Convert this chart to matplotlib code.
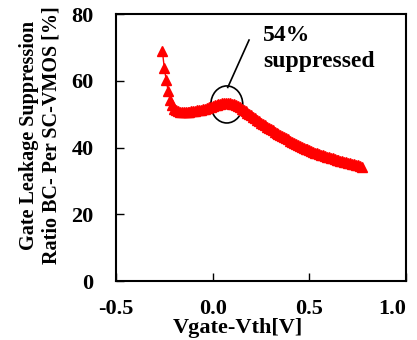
import numpy as np
import matplotlib.pyplot as plt
from matplotlib.patches import Ellipse

# gate voltage sweep and suppression ratio
vg = np.linspace(-0.26, 0.77, 104)
ratio = [69.0, 63.8, 60.2, 56.9, 54.3, 52.6, 51.6, 51.1, 50.8, 50.6,
         50.5, 50.5, 50.5, 50.6, 50.7, 50.8, 50.9, 51.0, 51.1, 51.2,
         51.3, 51.5, 51.6, 51.8, 52.0, 52.2, 52.4, 52.6, 52.8, 53.0,
         53.1, 53.2, 53.3, 53.3, 53.3, 53.2, 53.1, 52.9, 52.6, 52.3,
         52.0, 51.6, 51.2, 50.8, 50.4, 50.0, 49.6, 49.1, 48.7, 48.3,
         47.8, 47.4, 47.0, 46.6, 46.2, 45.8, 45.4, 45.1, 44.7, 44.4,
         44.0, 43.7, 43.3, 43.0, 42.7, 42.4, 42.0, 41.7, 41.4, 41.1,
         40.8, 40.6, 40.3, 40.0, 39.7, 39.5, 39.2, 39.0, 38.8, 38.5,
         38.3, 38.1, 37.9, 37.7, 37.5, 37.3, 37.1, 37.0, 36.8, 36.6,
         36.4, 36.2, 36.0, 35.9, 35.7, 35.6, 35.4, 35.3, 35.1, 35.0,
         34.8, 34.7, 34.5, 34.3]
xticks = [-0.5, 0.0, 0.5, 1.0]
yticks = [0, 20, 40, 60, 80]

plt.rcParams['font.family'] = ['Liberation Serif', 'DejaVu Serif']
plt.rcParams['font.weight'] = 'bold'

fig = plt.figure(figsize=(4.17, 3.40), dpi=100)
ax = fig.add_axes([0.278, 0.1735, 0.696, 0.7853])

ax.plot(vg, ratio, color='red', marker='^', markersize=6.5, linewidth=1)

# highlight around the hump
ax.add_patch(Ellipse((0.073, 52.9), 0.165, 11.1, fill=False, color='black', linewidth=1.2))
ax.plot([0.078, 0.188], [58.0, 72.2], color='black', linewidth=1.2)
ax.text(0.26, 76.8, "54%\nsuppressed", fontsize=17, fontweight='bold',
        ha='left', va='top', linespacing=1.35)

ax.set_xlim(-0.5, 1.0)
ax.set_ylim(0, 80)
ax.set_xticks(xticks)
ax.set_xticklabels(['-0.5', '0.0', '0.5', '1.0'])
ax.set_yticks(yticks)
ax.tick_params(direction='in', length=6, width=1, labelsize=16, top=False, right=False)
ax.tick_params(axis='y', pad=16)
ax.tick_params(axis='x', pad=13)
ax.get_xticklabels()[-1].set_ha('right')
for s in ax.spines.values():
    s.set_linewidth(1.5)

fig.text(0.096, 0.603, "Gate Leakage Suppression\nRatio BC- Per SC-VMOS [%]",
         rotation=90, ha='center', va='center', fontsize=14.5, fontweight='bold',
         multialignment='center', linespacing=1.2)
fig.text(0.571, 0.02, "Vgate-Vth[V]", ha='center', va='baseline', fontsize=16, fontweight='bold')

fig.savefig('out.png', dpi=100)
